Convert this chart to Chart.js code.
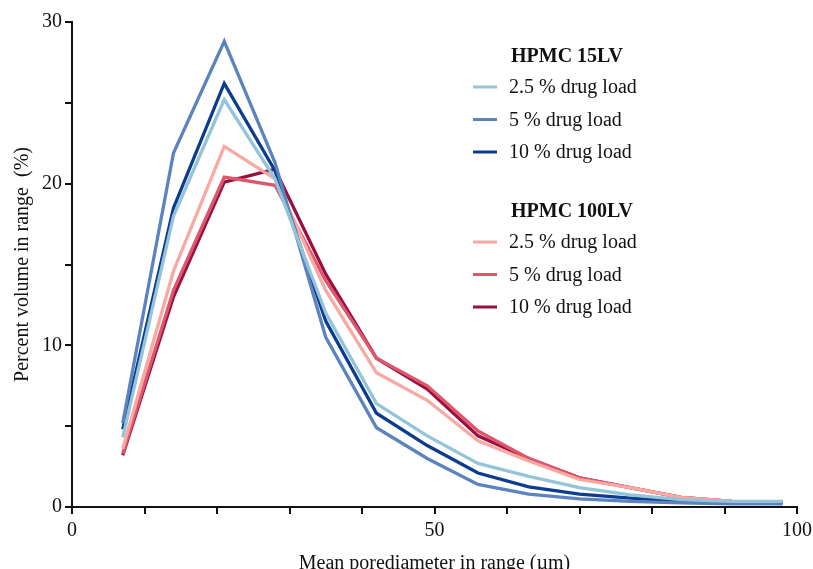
<!DOCTYPE html>
<html>
<head>
<meta charset="utf-8">
<script src="https://cdn.jsdelivr.net/npm/chart.js@4"></script>
<style>
  html, body { margin: 0; padding: 0; background: #fff; overflow: hidden; }
  #grafico { display: block; }
</style>
</head>
<body>
<canvas id="grafico" width="813" height="580"></canvas>
<script>
// Diámetro medio de poro (µm) de cada intervalo
const diametros = [7, 14, 21, 28, 35, 42, 49, 56, 63, 70, 77, 84, 91, 98];

// Porcentaje de volumen en cada intervalo
const lv15_25 = [4.3, 18.0, 25.2, 20.3, 12.0, 6.4, 4.4, 2.7, 1.9, 1.2, 0.75, 0.45, 0.35, 0.35];
const lv15_5 = [5.2, 21.9, 28.8, 21.3, 10.5, 4.9, 3.0, 1.4, 0.8, 0.5, 0.35, 0.25, 0.2, 0.2];
const lv15_10 = [4.8, 18.5, 26.2, 20.8, 11.5, 5.8, 3.8, 2.1, 1.25, 0.8, 0.55, 0.35, 0.25, 0.25];
const lv100_25 = [3.6, 14.6, 22.3, 20.3, 13.4, 8.3, 6.6, 4.1, 2.85, 1.7, 1.2, 0.6, 0.35, 0.3];
const lv100_5 = [3.3, 13.4, 20.4, 19.9, 14.0, 9.2, 7.5, 4.7, 3.0, 1.8, 1.2, 0.6, 0.35, 0.3];
const lv100_10 = [3.2, 13.0, 20.1, 20.9, 14.4, 9.2, 7.3, 4.4, 3.0, 1.8, 1.2, 0.6, 0.35, 0.3];

const etiquetasCarga = ["2.5 % drug load", "5 % drug load", "10 % drug load"];
const grupos = ["HPMC 15LV", "HPMC 100LV"];

const colores15 = ["#93c4d8", "#5a83bf", "#0b3c8f"];
const colores100 = ["#f9a8a2", "#de566b", "#9a0f3f"];

const fuente = "'Liberation Serif', 'Times New Roman', serif";

function serie(valores, color, etiqueta) {
  return {
    label: etiqueta,
    data: diametros.map((x, i) => ({ x: x, y: valores[i] })),
    borderColor: color,
    backgroundColor: color,
    borderWidth: 3.3,
    pointRadius: 0,
    tension: 0,
    fill: false
  };
}

const datasets = [
  serie(lv15_25, colores15[0], etiquetasCarga[0]),
  serie(lv15_5, colores15[1], etiquetasCarga[1]),
  serie(lv15_10, colores15[2], etiquetasCarga[2]),
  serie(lv100_25, colores100[0], etiquetasCarga[0]),
  serie(lv100_5, colores100[1], etiquetasCarga[1]),
  serie(lv100_10, colores100[2], etiquetasCarga[2])
];

// Leyenda en dos grupos dibujada a mano dentro del gráfico
const leyendaGrupos = {
  id: "leyendaGrupos",
  afterDraw(chart) {
    const ctx = chart.ctx;
    const ds = chart.data.datasets;
    ctx.save();
    ctx.textBaseline = "middle";
    const bloques = [
      { titulo: grupos[0], y: 57, items: [0, 1, 2] },
      { titulo: grupos[1], y: 212, items: [3, 4, 5] }
    ];
    bloques.forEach(b => {
      ctx.font = "bold 20px " + fuente;
      ctx.fillStyle = "#111";
      ctx.fillText(b.titulo, 511, b.y);
      b.items.forEach((idx, k) => {
        const y = b.y + 30 + k * 32.5;
        ctx.strokeStyle = ds[idx].borderColor;
        ctx.lineWidth = 3;
        ctx.beginPath();
        ctx.moveTo(473, y);
        ctx.lineTo(497, y);
        ctx.stroke();
        ctx.font = "20px " + fuente;
        ctx.fillStyle = "#111";
        ctx.fillText(ds[idx].label, 509, y + 1);
      });
    });
    ctx.restore();
  }
};

const ctx = document.getElementById("grafico").getContext("2d");
new Chart(ctx, {
  type: "line",
  data: { datasets: datasets },
  options: {
    responsive: false,
    animation: false,
    layout: { padding: { top: 22, right: 16, left: 0, bottom: 0 } },
    plugins: {
      legend: { display: false },
      tooltip: { enabled: false }
    },
    scales: {
      x: {
        type: "linear",
        min: 0,
        max: 100,
        afterFit: s => { s.height = 73; },
        ticks: {
          stepSize: 10,
          autoSkip: false,
          maxRotation: 0,
          padding: 1,
          color: "#111",
          font: { family: fuente, size: 20, lineHeight: 1.6 },
          callback: v => (v % 50 === 0 ? v : "")
        },
        grid: {
          drawOnChartArea: false,
          drawTicks: true,
          tickLength: 7,
          color: "#111",
          lineWidth: 2
        },
        border: { display: true, color: "#111", width: 2 },
        title: {
          display: true,
          text: "Mean porediameter in range (µm)",
          color: "#111",
          font: { family: fuente, size: 20 },
          padding: { top: 0, bottom: 4 }
        }
      },
      y: {
        min: 0,
        max: 30,
        afterFit: s => { s.width = 72; },
        ticks: {
          stepSize: 5,
          autoSkip: false,
          padding: 3,
          color: "#111",
          font: { family: fuente, size: 20 },
          callback: v => (v % 10 === 0 ? v : "")
        },
        grid: {
          drawOnChartArea: false,
          drawTicks: true,
          tickLength: 7,
          color: "#111",
          lineWidth: 2
        },
        border: { display: true, color: "#111", width: 2 },
        title: {
          display: true,
          text: "Percent volume in range  (%)",
          color: "#111",
          font: { family: fuente, size: 20 },
          padding: { top: 11, bottom: 0 }
        }
      }
    }
  },
  plugins: [leyendaGrupos]
});
</script>
</body>
</html>
